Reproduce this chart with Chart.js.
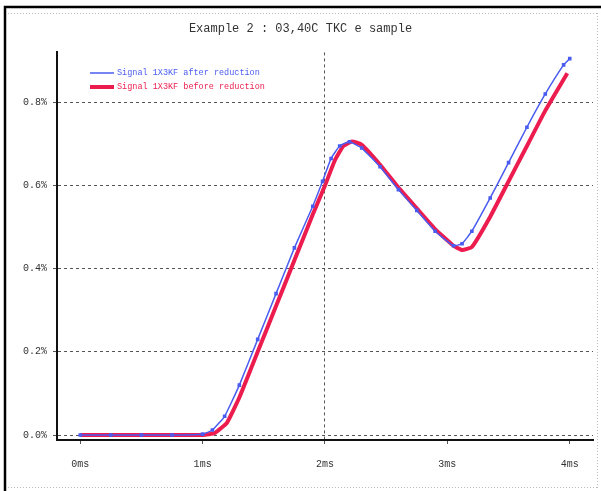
<!DOCTYPE html>
<html>
<head>
<meta charset="utf-8">
<script src="https://cdn.jsdelivr.net/npm/chart.js@4"></script>
<style>
  html, body { margin: 0; padding: 0; background: #fff; }
  #wrap { width: 601px; height: 491px; }
</style>
</head>
<body>
<div id="wrap"><canvas id="waveChart"></canvas></div>
<script>
// values (time in ms, value in %)
const chartTitle = 'Example 2 : 03,40C TKC e sample';
const seriesNames = ['Signal 1X3KF after reduction', 'Signal 1X3KF before reduction'];
const xTickLabels = ['0ms', '1ms', '2ms', '3ms', '4ms'];
const yTickLabels = ['0.0%', '0.2%', '0.4%', '0.6%', '0.8%'];

const afterTimes  = [0, 0.25, 0.5, 0.75, 1.0, 1.08, 1.18, 1.3, 1.45, 1.6, 1.75, 1.9, 1.98, 2.05, 2.12, 2.2, 2.3, 2.45, 2.6, 2.75, 2.9, 3.05, 3.12, 3.2, 3.35, 3.5, 3.65, 3.8, 3.95, 4.0];
const afterValues = [0, 0, 0, 0, 0.002, 0.012, 0.045, 0.12, 0.23, 0.34, 0.45, 0.55, 0.61, 0.665, 0.695, 0.705, 0.69, 0.645, 0.59, 0.54, 0.49, 0.455, 0.46, 0.49, 0.57, 0.655, 0.74, 0.82, 0.89, 0.905];

const beforeTimes  = [0, 0.5, 1.0, 1.1, 1.2, 1.3, 1.45, 1.6, 1.75, 1.9, 2.0, 2.08, 2.15, 2.22, 2.3, 2.45, 2.6, 2.75, 2.9, 3.05, 3.12, 3.2, 3.35, 3.5, 3.65, 3.8, 3.98];
const beforeValues = [0, 0, 0, 0.005, 0.03, 0.09, 0.2, 0.31, 0.42, 0.53, 0.6, 0.66, 0.695, 0.706, 0.698, 0.65, 0.595, 0.545, 0.495, 0.455, 0.445, 0.452, 0.525, 0.61, 0.695, 0.78, 0.87];

function toPoints(xs, ys) {
    return xs.map((x, i) => ({ x: x, y: ys[i] }));
}

const mono = "'Liberation Mono', 'DejaVu Sans Mono', monospace";

// frame round the picture + legend inside the plot
const framePlugin = {
    id: 'frame',
    beforeDraw(chart) {
        const c = chart.ctx;
        c.save();
        c.fillStyle = '#fff';
        c.fillRect(0, 0, chart.width, chart.height);
        c.strokeStyle = '#bbb';
        c.lineWidth = 1;
        c.setLineDash([1, 2]);
        c.beginPath();
        c.moveTo(8, 13.5); c.lineTo(598, 13.5);
        c.moveTo(597.5, 13); c.lineTo(597.5, 488);
        c.moveTo(8, 487.5); c.lineTo(598, 487.5);
        c.stroke();
        c.setLineDash([]);
        c.strokeStyle = '#000';
        c.lineWidth = 2.5;
        c.beginPath();
        c.moveTo(5, 491); c.lineTo(5, 7); c.lineTo(601, 7);
        c.stroke();
        c.restore();
    },
    afterDraw(chart) {
        const c = chart.ctx;
        c.save();
        c.font = '8.5px ' + mono;
        c.textBaseline = 'middle';
        chart.data.datasets.forEach((ds, i) => {
            const y = 73 + i * 14;
            c.strokeStyle = ds.borderColor;
            c.lineWidth = i === 0 ? 1.5 : 4;
            c.beginPath();
            c.moveTo(90, y); c.lineTo(114, y);
            c.stroke();
            c.fillStyle = ds.borderColor;
            c.fillText(ds.label, 117, y);
        });
        c.restore();
    }
};

const ctx = document.getElementById('waveChart').getContext('2d');

const waveChart = new Chart(ctx, {
    type: 'line',
    data: {
        datasets: [
            {
                label: seriesNames[0],
                data: toPoints(afterTimes, afterValues),
                borderColor: '#4a5cf0',
                backgroundColor: '#4a5cf0',
                borderWidth: 1.5,
                pointStyle: 'rect',
                pointRadius: 1.5,
                fill: false,
                tension: 0.12,
                order: 0
            },
            {
                label: seriesNames[1],
                data: toPoints(beforeTimes, beforeValues),
                borderColor: '#ec1d4e',
                backgroundColor: '#ec1d4e',
                borderWidth: 4,
                pointRadius: 0,
                fill: false,
                tension: 0.12,
                order: 1
            }
        ]
    },
    options: {
        responsive: true,
        maintainAspectRatio: false,
        animation: false,
        layout: { padding: { left: 8, right: 8, top: 0, bottom: 16 } },
        plugins: {
            legend: { display: false },
            tooltip: { enabled: false },
            title: {
                display: true,
                text: chartTitle,
                color: '#333',
                font: { family: mono, size: 12, weight: 'normal' },
                padding: { top: 22, bottom: 16 }
            }
        },
        scales: {
            x: {
                type: 'linear',
                min: -0.19,
                max: 4.19,
                afterBuildTicks(axis) {
                    axis.ticks = xTickLabels.map((t, i) => ({ value: i }));
                },
                afterFit(axis) { axis.height = 35; },
                ticks: {
                    callback: (v, i) => xTickLabels[i],
                    color: '#333',
                    font: { family: mono, size: 10 },
                    padding: 14,
                    maxRotation: 0
                },
                grid: {
                    // only the middle tick gets a vertical grid line
                    color: (c) => c.tick && c.tick.value === 2 ? '#555' : 'rgba(0,0,0,0)',
                    tickColor: '#555',
                    tickLength: 4,
                    lineWidth: 1
                },
                border: { display: true, color: '#111', width: 2, dash: [3, 3] }
            },
            y: {
                min: -0.012,
                max: 0.92,
                afterBuildTicks(axis) {
                    axis.ticks = yTickLabels.map((t, i) => ({ value: i * 0.2 }));
                },
                afterFit(axis) { axis.width = 49; },
                ticks: {
                    callback: (v, i) => yTickLabels[i],
                    color: '#333',
                    font: { family: mono, size: 10 },
                    padding: 6
                },
                grid: {
                    color: '#555',
                    tickColor: '#555',
                    tickLength: 4,
                    lineWidth: 1
                },
                border: { display: true, color: '#111', width: 2, dash: [3, 3] }
            }
        }
    },
    plugins: [framePlugin]
});
</script>
</body>
</html>
